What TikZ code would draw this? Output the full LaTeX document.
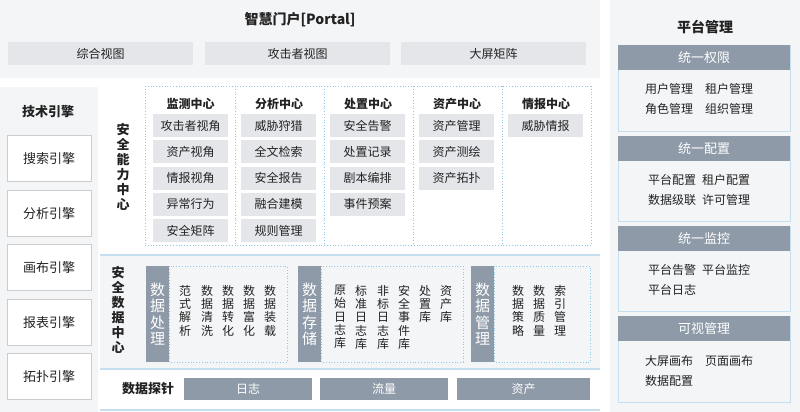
\documentclass[tikz,border=0pt]{standalone}
\usepackage{fontspec}
\setmainfont{Noto Sans CJK SC}
\definecolor{bgg}{HTML}{F4F5F7}
\definecolor{itg}{HTML}{E4E6EA}
\definecolor{dk}{HTML}{8E9AA8}
\definecolor{bl}{HTML}{C5DFF0}
\definecolor{dotc}{HTML}{8CC8EC}
\definecolor{tx}{HTML}{222222}
\begin{document}
\begin{tikzpicture}[x=1pt,y=-1pt,
  tfont/.style={font=\fontsize{12}{13}\selectfont,text=tx},
  item/.style={tfont,fill=itg,inner sep=0,minimum width=75,minimum height=23,anchor=north west},
  hdr/.style={font=\bfseries\fontsize{12}{13}\selectfont,text=tx},
  big/.style={font=\bfseries\fontsize{14}{16}\selectfont,text=tx},
  vtxt/.style={tfont,align=center,inner sep=0,anchor=north,font=\fontsize{12}{13.3}\selectfont},
  eng/.style={tfont,draw=black!20,fill=white,minimum width=84,minimum height=46,inner sep=0,anchor=north west,font=\fontsize{13}{14}\selectfont},
  bar/.style={fill=dk,text=white,align=center,inner sep=0,anchor=north west,minimum width=23,minimum height=96,font=\fontsize{15}{16.5}\selectfont},
  probe/.style={fill=dk,text=white,inner sep=0,anchor=north west,minimum height=22,font=\fontsize{12}{13}\selectfont},
  dot/.style={draw=dotc,dotted,line width=0.8pt},
  rh/.style={fill=dk,text=white,inner sep=0,anchor=north west,minimum width=172,minimum height=25,font=\fontsize{13}{14}\selectfont},
  rb/.style={draw=bl,fill=bgg,anchor=north west,minimum width=172,inner sep=0}]
\useasboundingbox (0,0) rectangle (800,412);
\fill[white] (0,0) rectangle (800,412);
% portal
\fill[bgg] (0,0) rectangle (600,78);
\node[big] (portal) at (300,20) {智慧门户[Portal]};
\node[item,minimum width=185] (p1) at (8,42) {综合视图};
\node[item,minimum width=185] (p2) at (205,42) {攻击者视图};
\node[item,minimum width=185] (p3) at (401,42) {大屏矩阵};
% left engines
\fill[bgg] (0,87) rectangle (98,412);
\node[hdr,font=\bfseries\fontsize{13}{14}\selectfont] (te) at (48,112) {技术引擎};
\node[eng] (e1) at (7,135) {搜索引擎};
\node[eng] (e2) at (7,190) {分析引擎};
\node[eng] (e3) at (7,244) {画布引擎};
\node[eng] (e4) at (7,299) {报表引擎};
\node[eng] (e5) at (7,353) {拓扑引擎};
% capability
\node[hdr,align=center,anchor=north,font=\bfseries\fontsize{13}{15}\selectfont] (cap) at (123,120) {安\\全\\能\\力\\中\\心};
\foreach \x in {145,235,324,413,502,591} \draw[dot] (\x,86) -- (\x,245);
\draw[dot] (145,86) -- (591,86); \draw[dot] (145,245) -- (591,245);
\node[hdr] (h1) at (190.5,104) {监测中心};
\node[hdr] (h2) at (279,104) {分析中心};
\node[hdr] (h3) at (368,104) {处置中心};
\node[hdr] (h4) at (457,104) {资产中心};
\node[hdr] (h5) at (546,104) {情报中心};
\foreach \t [count=\i from 0] in {攻击者视角,资产视角,情报视角,异常行为,安全矩阵}
  \node[item] (a\i) at (153,114+26.2*\i) {\t};
\foreach \t [count=\i from 0] in {威胁狩猎,全文检索,安全报告,融合建模,规则管理}
  \node[item] (b\i) at (241,114+26.2*\i) {\t};
\foreach \t [count=\i from 0] in {安全告警,处置记录,剧本编排,事件预案}
  \node[item] (c\i) at (330,114+26.2*\i) {\t};
\foreach \t [count=\i from 0] in {资产管理,资产测绘,资产拓扑}
  \node[item] (d\i) at (419,114+26.2*\i) {\t};
\node[item] (f0) at (508,114) {威胁情报};
% data center
\fill[bgg] (100,256) rectangle (600,368);
\draw[bl,line width=1.5pt] (100,255) -- (600,255);
\draw[bl,line width=1.5pt] (100,369) -- (600,369);
\draw[bl,line width=1.5pt] (100,410) -- (600,410);
\node[hdr,align=center,anchor=north,font=\bfseries\fontsize{13}{15}\selectfont] (dc) at (118,263) {安\\全\\数\\据\\中\\心};
\draw[dot] (169,266) rectangle (287,362);
\draw[dot] (321,266) rectangle (463,362);
\draw[dot] (494,266) rectangle (590,362);
\node[bar] (g1) at (146,266) {数\\据\\处\\理};
\node[bar] (g2) at (298,266) {数\\据\\存\\储};
\node[bar] (g3) at (471,266) {数\\据\\管\\理};
\foreach \t/\x [count=\i] in {范\\式\\解\\析/185,数\\据\\清\\洗/207,数\\据\\转\\化/228,数\\据\\富\\化/249,数\\据\\装\\载/270}
  \node[vtxt] (x\i) at (\x,285) {\t};
\foreach \t/\x [count=\i] in {原\\始\\日\\志\\库/340,标\\准\\日\\志\\库/361,非\\标\\日\\志\\库/383,安\\全\\事\\件\\库/404,处\\置\\库/425,资\\产\\库/446}
  \node[vtxt] (y\i) at (\x,285) {\t};
\foreach \t/\x [count=\i] in {数\\据\\策\\略/518,数\\据\\质\\量/539,索\\引\\管\\理/560}
  \node[vtxt] (z\i) at (\x,285) {\t};
% probe
\node[hdr,font=\bfseries\fontsize{13}{14}\selectfont] (pr) at (148,389) {数据探针};
\node[probe,minimum width=128] (q1) at (184,378) {日志};
\node[probe,minimum width=128] (q2) at (320,378) {流量};
\node[probe,minimum width=133] (q3) at (457,378) {资产};
% right
\fill[bgg] (610,0) rectangle (800,412);
\node[big] (pm) at (705,27) {平台管理};
\node[rb,minimum height=86] (r1b) at (618,45) {};
\node[rh] (r1) at (618,45) {统一权限};
\node[tfont,align=left] (r1t) at (699,99) {用户管理\quad 租户管理\\[7pt]角色管理\quad 组织管理};
\node[rb,minimum height=85] (r2b) at (618,136) {};
\node[rh] (r2) at (618,136) {统一配置};
\node[tfont,align=left] (r2t) at (699,190) {平台配置\enspace 租户配置\\[7pt]数据级联\enspace 许可管理};
\node[rb,minimum height=85] (r3b) at (618,226) {};
\node[rh] (r3) at (618,226) {统一监控};
\node[tfont,align=left] (r3t) at (699,280) {平台告警\enspace 平台监控\\[7pt]平台日志};
\node[rb,minimum height=86] (r4b) at (618,316) {};
\node[rh] (r4) at (618,316) {可视管理};
\node[tfont,align=left] (r4t) at (699,371) {大屏画布\quad 页面画布\\[7pt]数据配置};
\end{tikzpicture}
\end{document}
